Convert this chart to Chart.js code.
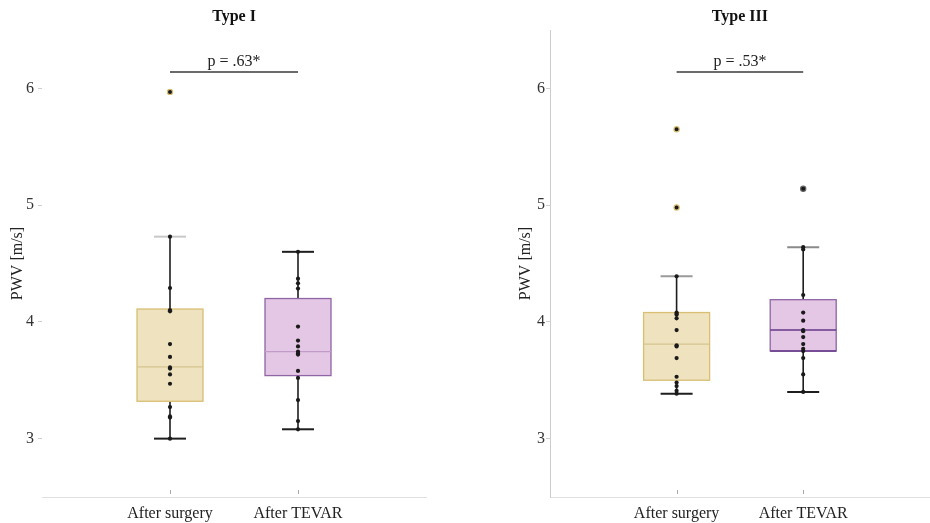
<!DOCTYPE html>
<html>
<head>
<meta charset="utf-8">
<script src="https://cdn.jsdelivr.net/npm/chart.js@4.4.0/dist/chart.umd.min.js"></script>
<style>
  html, body { margin: 0; padding: 0; background: #fff; overflow: hidden; }
  .panel { position: absolute; top: 0; height: 523px; }
  #left { left: 0; width: 465px; }
  #right { left: 465px; width: 469px; }
</style>
</head>
<body>
<div class="panel" id="left"><canvas id="chartI"></canvas></div>
<div class="panel" id="right"><canvas id="chartIII"></canvas></div>
<script>
const groups = ['After surgery', 'After TEVAR'];
const yTicks = [3, 4, 5, 6];

// Type I: individual PWV values (m/s)
const surgeryI = [4.73, 4.29, 4.10, 4.09, 3.81, 3.70, 3.61, 3.60, 3.55, 3.47, 3.27, 3.19, 3.18, 3.00];
const surgeryIOut = [5.97];
const tevarI = [4.60, 4.37, 4.33, 4.285, 3.96, 3.84, 3.79, 3.745, 3.73, 3.72, 3.58, 3.52, 3.33, 3.15, 3.08];
const tevarIOut = [];
// [lower whisker, q1, median, q3, upper whisker]
const surgeryIBox = [3.00, 3.32, 3.615, 4.11, 4.73];
const tevarIBox = [3.08, 3.54, 3.745, 4.20, 4.60];
const pTextI = 'p = .63*';

// Type III
const surgeryIII = [4.39, 4.08, 4.07, 4.06, 4.03, 3.93, 3.80, 3.79, 3.69, 3.53, 3.48, 3.45, 3.41, 3.385];
const surgeryIIIOut = [5.65, 4.98];
const tevarIII = [4.64, 4.62, 4.23, 4.08, 4.01, 3.93, 3.92, 3.87, 3.81, 3.77, 3.75, 3.69, 3.55, 3.40];
const tevarIIIOut = [5.14];
const surgeryIIIBox = [3.385, 3.50, 3.81, 4.08, 4.39];
const tevarIIIBox = [3.40, 3.75, 3.93, 4.19, 4.64];
const pTextIII = 'p = .53*';

const pBarY = 6.14;

const SERIF = "'Liberation Serif', 'Times New Roman', serif";
const yellow = { fill: 'rgba(238,226,188,0.95)', border: '#d8bf74', median: '#d6c48f', halo: '#d8bf74' };
const purple = { fill: 'rgba(226,196,227,0.95)', border: '#8f65a5', median: '#c29bc9', halo: '#666' };
const purpleDark = Object.assign({}, purple, { median: '#66388a' });

// draws box, whiskers, caps, titles and the significance label
const boxPlugin = {
  id: 'boxes',
  beforeDatasetsDraw(chart, args, opts) {
    const { ctx, scales: { x, y } } = chart;
    const half = 33, cap = 16;
    opts.boxes.forEach((b, i) => {
      const cx = x.getPixelForValue(i + 1);
      const [lo, q1, med, q3, hi] = b.stats.map(v => y.getPixelForValue(v));
      ctx.save();
      ctx.strokeStyle = '#1e1e1e';
      ctx.lineWidth = 1.6;
      ctx.beginPath();
      ctx.moveTo(cx, hi); ctx.lineTo(cx, q3);
      ctx.moveTo(cx, q1); ctx.lineTo(cx, lo);
      ctx.stroke();
      ctx.lineWidth = 2;
      ctx.strokeStyle = b.topCap;
      ctx.beginPath(); ctx.moveTo(cx - cap, hi); ctx.lineTo(cx + cap, hi); ctx.stroke();
      ctx.strokeStyle = '#1e1e1e';
      ctx.beginPath(); ctx.moveTo(cx - cap, lo); ctx.lineTo(cx + cap, lo); ctx.stroke();
      ctx.fillStyle = b.color.fill;
      ctx.fillRect(cx - half, q3, half * 2, q1 - q3);
      ctx.strokeStyle = b.color.border;
      ctx.lineWidth = 1.3;
      ctx.strokeRect(cx - half, q3, half * 2, q1 - q3);
      ctx.strokeStyle = b.color.median;
      ctx.lineWidth = b.medianWidth || 1.2;
      ctx.beginPath(); ctx.moveTo(cx - half, med); ctx.lineTo(cx + half, med); ctx.stroke();
      if (b.darkQ1) {
        ctx.strokeStyle = b.color.median;
        ctx.lineWidth = 1.6;
        ctx.beginPath(); ctx.moveTo(cx - half, q1); ctx.lineTo(cx + half, q1); ctx.stroke();
      }
      ctx.restore();
    });
  },
  afterDraw(chart, args, opts) {
    const { ctx, chartArea, scales: { x, y } } = chart;
    const mid = (chartArea.left + chartArea.right) / 2;
    ctx.save();
    ctx.fillStyle = '#111';
    ctx.textAlign = 'center';
    ctx.textBaseline = 'middle';
    ctx.font = 'bold 16px ' + SERIF;
    ctx.fillText(opts.title, mid, 17);
    ctx.font = '16px ' + SERIF;
    ctx.fillStyle = '#222';
    const px = (x.getPixelForValue(1) + x.getPixelForValue(2)) / 2;
    ctx.fillText(opts.pText, px, y.getPixelForValue(pBarY) - 10);
    // small category ticks sitting on the x axis
    ctx.strokeStyle = '#a8a8a8';
    ctx.lineWidth = 1;
    [1, 2].forEach(v => {
      const cx = Math.round(x.getPixelForValue(v)) + 0.5;
      ctx.beginPath();
      ctx.moveTo(cx, chartArea.bottom - 7);
      ctx.lineTo(cx, chartArea.bottom - 3);
      ctx.stroke();
    });
    ctx.restore();
  }
};

function pointSet(pos, values, outlier, color) {
  return {
    type: 'scatter',
    data: values.map(v => ({ x: pos, y: v })),
    backgroundColor: '#1a1a1a',
    borderColor: outlier ? color.halo : '#1a1a1a',
    borderWidth: outlier ? 1.2 : 0,
    pointRadius: outlier ? 2.6 : 2.1,
    pointHoverRadius: 3
  };
}

function makeChart(id, cfg) {
  return new Chart(document.getElementById(id), {
    type: 'scatter',
    data: {
      datasets: [
        pointSet(1, cfg.a, false, cfg.boxes[0].color),
        pointSet(1, cfg.aOut, true, cfg.boxes[0].color),
        pointSet(2, cfg.b, false, cfg.boxes[1].color),
        pointSet(2, cfg.bOut, true, cfg.boxes[1].color),
        {
          type: 'line',
          data: [{ x: 1, y: pBarY }, { x: 2, y: pBarY }],
          borderColor: '#3a3a3a',
          borderWidth: 1.6,
          pointRadius: 0
        }
      ]
    },
    options: {
      responsive: true,
      maintainAspectRatio: false,
      animation: false,
      layout: { padding: { top: 30, left: 0, right: cfg.padRight, bottom: 0 } },
      plugins: {
        legend: { display: false },
        tooltip: { enabled: false },
        boxes: { boxes: cfg.boxes, title: cfg.title, pText: cfg.pText }
      },
      scales: {
        x: {
          type: 'linear',
          min: 0,
          max: 3,
          afterBuildTicks: s => { s.ticks = [1, 2].map(v => ({ value: v })); },
          afterFit: s => { s.height = 26; },
          border: { display: true, color: '#e0e0e0' },
          grid: { display: false, drawTicks: false },
          ticks: {
            callback: v => groups[v - 1],
            font: { family: SERIF, size: 16 },
            color: '#222',
            padding: 7,
            maxRotation: 0
          }
        },
        y: {
          min: 2.5,
          max: 6.5,
          afterBuildTicks: s => { s.ticks = yTicks.map(v => ({ value: v })); },
          afterFit: s => { s.width = cfg.yWidth; },
          border: { display: cfg.yAxisLine, color: '#cdcdcd' },
          grid: { drawOnChartArea: false, drawTicks: true, tickLength: 4, color: '#cfcfcf' },
          ticks: {
            font: { family: SERIF, size: 16 },
            color: '#333',
            padding: cfg.tickPad
          },
          title: {
            display: true,
            text: 'PWV [m/s]',
            font: { family: SERIF, size: 16 },
            color: '#222',
            padding: { top: cfg.titlePad, bottom: 0 }
          }
        }
      }
    },
    plugins: [boxPlugin]
  });
}

makeChart('chartI', {
  title: 'Type I', pText: pTextI,
  a: surgeryI, aOut: surgeryIOut, b: tevarI, bOut: tevarIOut,
  boxes: [
    { stats: surgeryIBox, color: yellow, topCap: '#c8c8c8' },
    { stats: tevarIBox, color: purple, topCap: '#1e1e1e' }
  ],
  yWidth: 42, yAxisLine: false, tickPad: 4, titlePad: 8, padRight: 39
});

makeChart('chartIII', {
  title: 'Type III', pText: pTextIII,
  a: surgeryIII, aOut: surgeryIIIOut, b: tevarIII, bOut: tevarIIIOut,
  boxes: [
    { stats: surgeryIIIBox, color: yellow, topCap: '#9a9a9a' },
    { stats: tevarIIIBox, color: purpleDark, topCap: '#8a8a8a', medianWidth: 1.6, darkQ1: true }
  ],
  yWidth: 85, yAxisLine: true, tickPad: 1, titlePad: 51, padRight: 0
});
</script>
</body>
</html>
